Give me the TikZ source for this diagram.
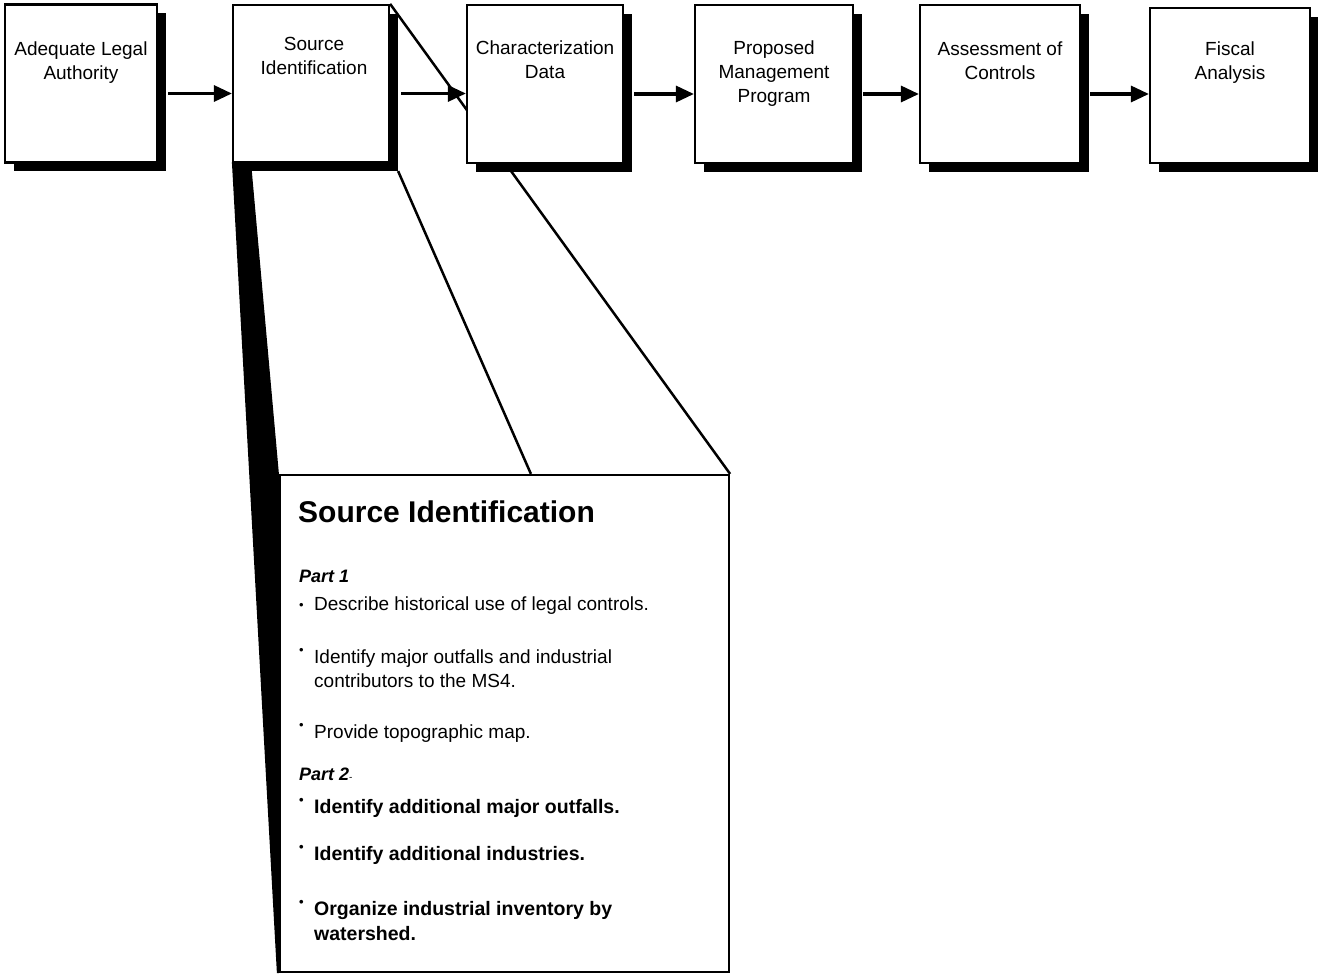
\documentclass[tikz,border=0pt]{standalone}
\usepackage{fontspec}
\setmainfont{Liberation Sans}
\usetikzlibrary{arrows.meta,shadows,backgrounds}

% small bullet, raised by #1
\newcommand\itemdot[1]{\makebox[15pt][l]{\raisebox{#1}{\fontsize{13}{13}\selectfont\textbullet}}}

\begin{document}
\begin{tikzpicture}[x=1pt,y=-1pt,
  box/.style={draw=black, line width=2.2pt, fill=white, inner sep=0pt,
    drop shadow={shadow xshift=9pt, shadow yshift=-9pt, fill=black, opacity=1}},
  bigbox/.style={draw=black, line width=2.2pt, fill=white, inner sep=0pt},
  lbl/.style={anchor=north, align=center, inner sep=0pt,
    font=\fontsize{19}{24}\selectfont},
  flow/.style={line width=3.2pt, -{Triangle[length=18pt,width=16pt]}},
  funnel/.style={line width=2.5pt},
  hd/.style={anchor=base west, inner sep=0pt, font=\fontsize{30}{36}\selectfont\bfseries},
  part/.style={anchor=base west, inner sep=0pt, font=\fontsize{18}{22}\selectfont\bfseries\itshape},
  item/.style={anchor=base west, inner sep=0pt, font=\fontsize{19}{24}\selectfont},
  bitem/.style={anchor=base west, inner sep=0pt, font=\fontsize{19.5}{24}\selectfont\bfseries}
]
\useasboundingbox (0,0) rectangle (1318,976);

% process steps
\node[box, minimum width=152pt, minimum height=158pt] (b1) at (81,83.5) {};
\node[box, minimum width=156pt, minimum height=157pt] (b2) at (311,83.5) {};
\node[box, minimum width=156pt, minimum height=158pt] (b3) at (545,84) {};
\node[box, minimum width=158pt, minimum height=158pt] (b4) at (774,84) {};
\node[box, minimum width=160pt, minimum height=158pt] (b5) at (1000,84) {};
\node[box, minimum width=160pt, minimum height=155pt] (b6) at (1230,85.5) {};

\node[lbl] (t1) at ([yshift=-38pt]b1.north) {Adequate Legal\\Authority};
\node[lbl] (t2) at ([xshift=3pt,yshift=-33pt]b2.north) {Source\\Identification};
\node[lbl] (t3) at ([yshift=-37pt]b3.north) {Characterization\\Data};
\node[lbl] (t4) at ([yshift=-37pt]b4.north) {Proposed\\Management\\Program};
\node[lbl] (t5) at ([yshift=-38pt]b5.north) {Assessment of\\Controls};
\node[lbl] (t6) at ([yshift=-35pt]b6.north) {Fiscal\\Analysis};

% expanded detail panel
\node[bigbox, minimum width=449pt, minimum height=497pt] (big) at (504.5,723.5) {};

\begin{scope}[on background layer]
  % dark side face of the expansion
  \fill[black] ([yshift=1pt]b2.south west) -- ++(20,0) -- ++(0,10)
    -- (big.north west) -- (big.south west) -- ++(-2,0) -- cycle;
  % expansion edges
  \coordinate (fb) at ([xshift=252pt]big.north west);
  \draw[funnel] (b2.north east) -- (big.north east);
  \draw[funnel] ([xshift=8pt,yshift=-8pt]b2.south east) -- (fb);
\end{scope}

% flow arrows
\draw[flow] ([xshift=10pt,yshift=-10pt]b1.east) coordinate (s1) -- (b2.west |- s1);
\draw[flow] ([xshift=11pt,yshift=-10pt]b2.east) coordinate (s2) -- (b3.west |- s2);
\draw[flow] ([xshift=10pt,yshift=-10pt]b3.east) coordinate (s3) -- (b4.west |- s3);
\draw[flow] ([xshift=9pt,yshift=-10pt]b4.east) coordinate (s4) -- (b5.west |- s4);
\draw[flow] ([xshift=9pt,yshift=-10pt]b5.east) coordinate (s5) -- (b6.west |- s5);

% panel text
\node[hd] (h) at (298,522) {Source Identification};
\node[part] (p1) at (299,582) {Part 1};
\node[item] (i1) at (299,610) {\itemdot{0.5pt}Describe historical use of legal controls.};
\node[item] (i2) at (299,663) {\itemdot{8.5pt}Identify major outfalls and industrial};
\node[item] (i2b) at (314,687) {contributors to the MS4.};
\node[item] (i3) at (299,738) {\itemdot{8.5pt}Provide topographic map.};
\node[part] (p2) at (299,780) {Part 2{\mdseries\upshape\fontsize{10}{10}\selectfont-}};
\node[bitem] (i4) at (299,813) {\itemdot{8.5pt}Identify additional major outfalls.};
\node[bitem] (i5) at (299,860) {\itemdot{8.5pt}Identify additional industries.};
\node[bitem] (i6) at (299,915) {\itemdot{8.5pt}Organize industrial inventory by};
\node[bitem] (i6b) at (314,940) {watershed.};
\end{tikzpicture}
\end{document}
